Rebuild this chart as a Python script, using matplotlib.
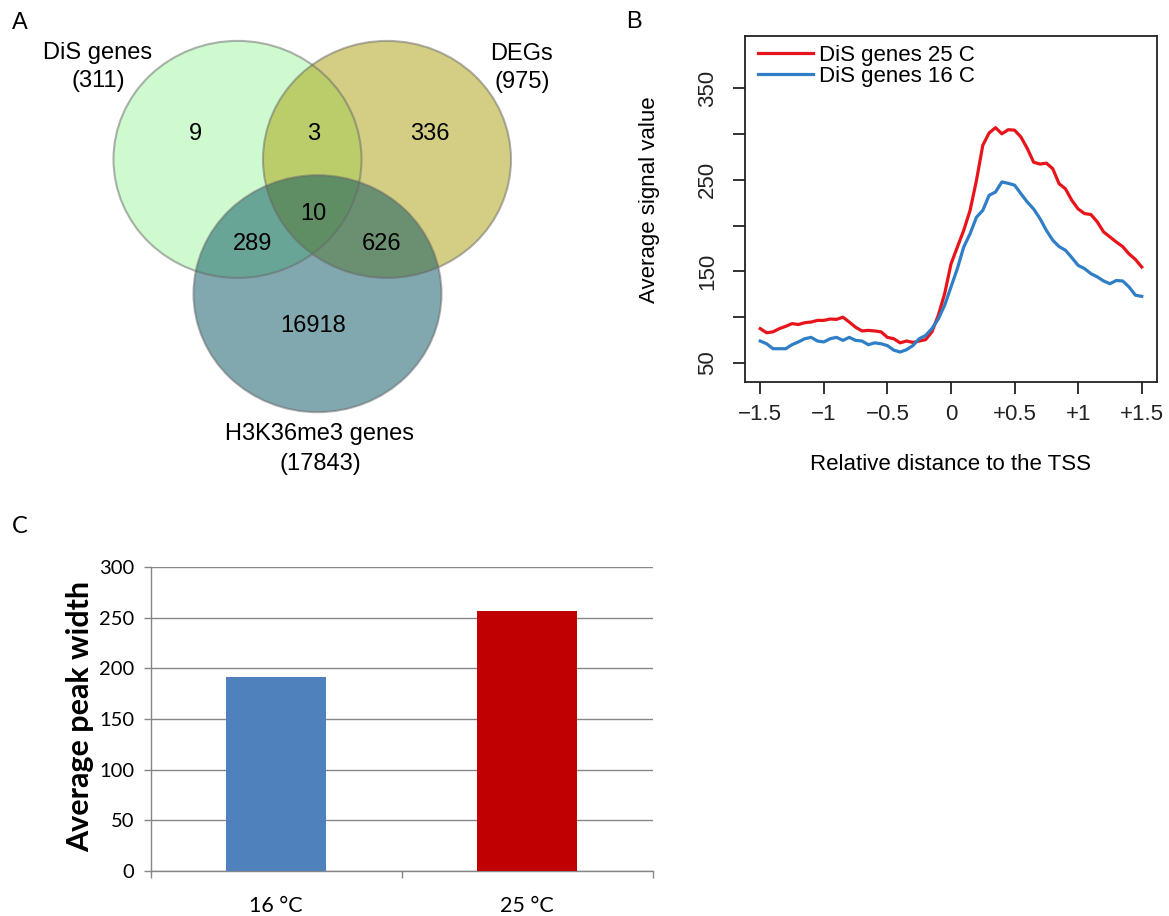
import numpy as np
import matplotlib
matplotlib.use('Agg')
import matplotlib.pyplot as plt
from matplotlib.patches import Ellipse

plt.rcParams['font.family'] = ['Liberation Sans', 'DejaVu Sans']

# ---- panel A: Venn counts ----
venn_names = ['DiS genes', 'DEGs', 'H3K36me3 genes']
venn_totals = [311, 975, 17843]
region_names = ['DiS only', 'DiS+DEG', 'DEG only', 'all three', 'DiS+H3', 'DEG+H3', 'H3 only']
region_counts = [9, 3, 336, 10, 289, 626, 16918]

# ---- panel B: average profile around the TSS ----
tss_pos = np.linspace(-1.5, 1.5, 61)
signal_25c = [87.5, 83, 84, 87.5, 90, 93, 92, 94, 94.7, 96.5,
              96.5, 98, 97.6, 100, 94.7, 89, 85, 85.6, 85, 84,
              78, 76.5, 72, 74, 72.5, 74, 75.5, 84, 102, 125.6,
              158, 176.5, 194.7, 216.5, 249, 287.5, 301, 306.7, 300, 304.5,
              304, 296.5, 284, 269, 267, 268, 262, 245.6, 240, 227.5,
              218, 213, 212, 204, 193, 187.5, 182, 177, 169, 163, 154.7]
signal_16c = [74, 71, 65.6, 65.6, 65.6, 70, 73, 76.5, 78, 74,
              73, 76.5, 78, 74.7, 78, 74.7, 74, 70, 72, 71,
              69, 64, 62, 64.5, 69, 76.5, 80, 87.5, 98, 113,
              133, 153, 176.5, 191, 209, 216.5, 233, 236.5, 247.5, 246,
              244, 234.7, 225.6, 218, 207.5, 194.7, 184, 177, 173, 165,
              156.5, 153, 147.5, 144, 139.5, 136.5, 140, 139.5, 133, 124, 122.7]
profile_labels = ['DiS genes 25 C', 'DiS genes 16 C']
tss_ticks = [-1.5, -1, -0.5, 0, 0.5, 1, 1.5]
tss_ticklabels = ['\u22121.5', '\u22121', '\u22120.5', '0', '+0.5', '+1', '+1.5']
signal_ticks = [50, 100, 150, 200, 250, 300, 350]
signal_ticklabels = ['50', '', '150', '', '250', '', '350']

# ---- panel C: peak width ----
temps = ['16 \u00b0C', '25 \u00b0C']
peak_width = [191.5, 256.6]

W, H = 1169, 916
fig = plt.figure(figsize=(W / 100, H / 100), dpi=100)


def px_axes(left, top, right, bottom):
    return fig.add_axes([left / W, 1 - bottom / H, (right - left) / W, (bottom - top) / H])


def px_text(x, y, s, **kw):
    return fig.text(x / W, 1 - y / H, s, **kw)


# ---------------- A ----------------
ax_a = px_axes(0, 0, 600, 500)
ax_a.set_xlim(0, 600)
ax_a.set_ylim(500, 0)
ax_a.axis('off')

circle_centers = [(237.5, 159.4), (387, 159.4), (317.5, 293.7)]
circle_colors = ['#a1f7a1', '#a99f09', '#055161']
for (cx, cy), col in zip(circle_centers, circle_colors):
    ax_a.add_patch(Ellipse((cx, cy), 248, 237, facecolor=col, alpha=0.5,
                           edgecolor='none'))
for cx, cy in circle_centers:
    ax_a.add_patch(Ellipse((cx, cy), 248, 237, facecolor='none',
                           edgecolor=(0.4, 0.4, 0.4, 0.5), lw=1.5))

region_xy = [(195, 140), (313.3, 140), (430, 140), (313.3, 220),
             (252.7, 250.5), (381.7, 250.5), (313.3, 332)]
for (x, y), n in zip(region_xy, region_counts):
    ax_a.text(x, y, str(n), ha='center', va='baseline', fontsize=17)

name_xy = [(97.5, 58.5, 87.5), (521.5, 60, 88), (319.5, 440, 470)]
for (x, y1, y2), name, tot in zip(name_xy, venn_names, venn_totals):
    ax_a.text(x, y1, name, ha='center', va='baseline', fontsize=17)
    ax_a.text(x + 1, y2, '(%d)' % tot, ha='center', va='baseline', fontsize=17)

px_text(12, 29, 'A', fontsize=17, ha='left', va='baseline')

# ---------------- B ----------------
ax_b = px_axes(745, 36, 1157, 382)
ax_b.plot(tss_pos, signal_25c, color='#e8141c', lw=2.3, label=profile_labels[0])
ax_b.plot(tss_pos, signal_16c, color='#2f7ec6', lw=2.3, label=profile_labels[1])
ax_b.set_xlim(-1.62, 1.62)
ax_b.set_ylim(29.3, 406.7)
ax_b.set_xticks(tss_ticks)
ax_b.set_xticklabels(tss_ticklabels)
ax_b.set_yticks(signal_ticks)
ax_b.set_yticklabels(signal_ticklabels, rotation=90, va='center')
ax_b.tick_params(direction='out', length=8.6, width=1.3, labelsize=16, colors='#222222')
ax_b.tick_params(axis='x', pad=7)
ax_b.tick_params(axis='y', pad=11)
for sp in ax_b.spines.values():
    sp.set_linewidth(1.3)
    sp.set_color('#222222')
ax_b.legend(loc='upper left', bbox_to_anchor=(0.031, 0.975), frameon=False,
            fontsize=16, borderpad=0, borderaxespad=0, handlelength=2.48,
            handletextpad=0.27, labelspacing=0.0)
px_text(950, 470, 'Relative distance to the TSS', fontsize=16, ha='center', va='baseline')
px_text(650, 200, 'Average signal value', fontsize=16, ha='center', va='center', rotation=90)
px_text(626, 28, 'B', fontsize=17, ha='left', va='baseline')

# ---------------- C ----------------
ax_c = px_axes(150.7, 567, 652.7, 871)
cat_pos = [0.5, 1.5]
ax_c.bar(cat_pos, peak_width, width=0.4, color=['#4f81bd', '#c00000'], zorder=3)
ax_c.set_xlim(0, 2)
ax_c.set_ylim(0, 300)
ax_c.set_yticks(range(0, 301, 50))
ax_c.grid(axis='y', color='#868686', lw=1.0, zorder=0)
ax_c.set_axisbelow(True)
for s in ['top', 'right']:
    ax_c.spines[s].set_visible(False)
for s in ['left', 'bottom']:
    ax_c.spines[s].set_color('#868686')
    ax_c.spines[s].set_linewidth(1.0)
ax_c.set_xticks(cat_pos)
ax_c.set_xticklabels(temps, family='Lato', fontsize=15.5)
ax_c.set_xticks([0, 1, 2], minor=True)
ax_c.tick_params(axis='x', which='major', length=0, pad=18)
ax_c.tick_params(axis='x', which='minor', length=5, width=1.0, color='#868686')
ax_c.tick_params(axis='y', length=5, width=1.0, color='#868686', pad=7)
for lab in ax_c.get_yticklabels():
    lab.set_family('Lato')
    lab.set_fontsize(14.5)
px_text(80, 716, 'Average peak width', fontsize=22, fontweight='bold', family='Lato',
        rotation=90, ha='center', va='center')
px_text(12, 533, 'C', fontsize=17, family='Lato', ha='left', va='baseline')

fig.savefig('out.png', dpi=100)
